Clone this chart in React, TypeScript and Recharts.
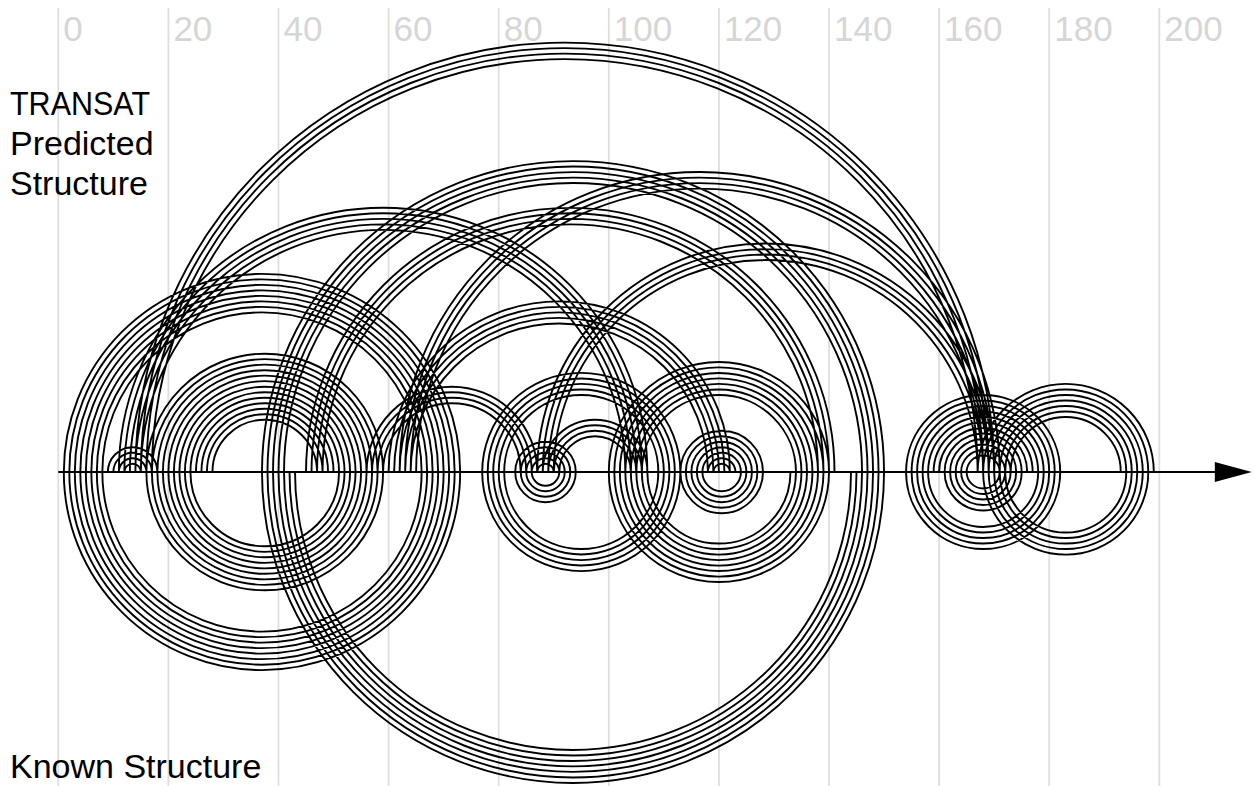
import React from 'react';
import { ComposedChart, Scatter, XAxis, YAxis, CartesianGrid } from 'recharts';

const tickValues = [0, 20, 40, 60, 80, 100, 120, 140, 160, 180, 200];

// helices: first base, its partner, number of stacked pairs
const predictedStart = [1, 9, 16, 14, 11, 37, 45, 56, 60, 62, 77, 83, 87, 88, 100, 113, 154, 161, 167];
const predictedEnd = [73, 18, 59, 170, 107, 150, 141, 87, 122, 171, 113, 94, 170, 107, 140, 128, 182, 175, 199];
const predictedLength = [8, 4, 13, 4, 5, 5, 4, 4, 5, 4, 5, 5, 4, 4, 7, 7, 7, 5, 7];

const knownStart = [1, 16, 37, 77, 83, 100, 113, 154, 161, 168];
const knownEnd = [73, 59, 150, 113, 94, 140, 128, 182, 175, 198];
const knownLength = [8, 9, 7, 5, 4, 8, 5, 5, 5, 5];

const axisExtent = [0, 216.8];

const FONT = 'Liberation Sans, Arial, Helvetica, sans-serif';

const toPairs = (start: number[], end: number[], len: number[]) => {
  const pts: { x: number; y: number }[] = [];
  start.forEach((s, h) => {
    for (let k = 0; k < len[h]; k++) {
      pts.push({ x: s + k, y: 0 });
      pts.push({ x: end[h] - k, y: 0 });
    }
  });
  return pts;
};

const predictedPairs = toPairs(predictedStart, predictedEnd, predictedLength);
const knownPairs = toPairs(knownStart, knownEnd, knownLength);
const axisPoints = axisExtent.map((x) => ({ x, y: 0 }));

// draws one semicircle per consecutive pair of points
const arcLines = (upper: boolean) => (props: any) => {
  const pts = props.points || [];
  let d = '';
  for (let n = 0; n + 1 < pts.length; n += 2) {
    const a = pts[n];
    const b = pts[n + 1];
    const r = Math.abs(b.x - a.x) / 2;
    d += `M${a.x},${a.y}A${r},${r} 0 0 ${upper ? 1 : 0} ${b.x},${b.y}`;
  }
  return <path d={d} fill="none" stroke="#000" strokeWidth={1.9} />;
};

const arrowLine = (props: any) => {
  const pts = props.points || [];
  if (pts.length < 2) return <g />;
  const [a, b] = pts;
  return (
    <g>
      <line x1={a.x} y1={a.y} x2={b.x - 30} y2={b.y} stroke="#000" strokeWidth={1.9} />
      <polygon points={`${b.x},${b.y} ${b.x - 37},${b.y - 10} ${b.x - 37},${b.y + 10}`} fill="#000" />
    </g>
  );
};

const noDot = () => <g />;

const TopTick = (props: any) => {
  const { x, payload } = props;
  return (
    <text x={x + 5} y={41} fontSize={35} fill="#d6d6d6" fontFamily={FONT} textAnchor="start">
      {payload.value}
    </text>
  );
};

export default function App() {
  return (
    <div
      style={{
        position: 'fixed',
        left: 0,
        top: 0,
        width: 1255,
        height: 786,
        background: '#fff',
        overflow: 'hidden',
      }}
    >
      {/* chart is a little wider than the page so the plot edges fall outside */}
      <div style={{ position: 'absolute', left: -10, top: 0 }}>
        <ComposedChart width={1275} height={786} margin={{ top: 8, right: 0, bottom: 0, left: 0 }}>
          <CartesianGrid
            vertical
            horizontal={false}
            syncWithTicks
            verticalValues={tickValues}
            stroke="#dedede"
            strokeWidth={1.8}
          />
          <XAxis
            type="number"
            dataKey="x"
            domain={[-12.407, 219.2]}
            ticks={tickValues}
            interval={0}
            orientation="top"
            mirror
            height={40}
            axisLine={false}
            tickLine={false}
            tick={<TopTick />}
            allowDataOverflow
          />
          <YAxis type="number" dataKey="y" domain={[-57.04, 84.29]} hide allowDataOverflow />
          <Scatter data={predictedPairs} shape={noDot} line={arcLines(true)} isAnimationActive={false} />
          <Scatter data={knownPairs} shape={noDot} line={arcLines(false)} isAnimationActive={false} />
          <Scatter data={axisPoints} shape={noDot} line={arrowLine} isAnimationActive={false} />
        </ComposedChart>
      </div>
      <svg
        width={1255}
        height={786}
        style={{ position: 'absolute', left: 0, top: 0, pointerEvents: 'none' }}
      >
        <g fontFamily={FONT} fontSize={34} fill="#000">
          <text x={10} y={115} textLength={140} lengthAdjust="spacingAndGlyphs">TRANSAT</text>
          <text x={10} y={155}>Predicted</text>
          <text x={10} y={195}>Structure</text>
          <text x={10} y={778}>Known Structure</text>
        </g>
      </svg>
    </div>
  );
}
